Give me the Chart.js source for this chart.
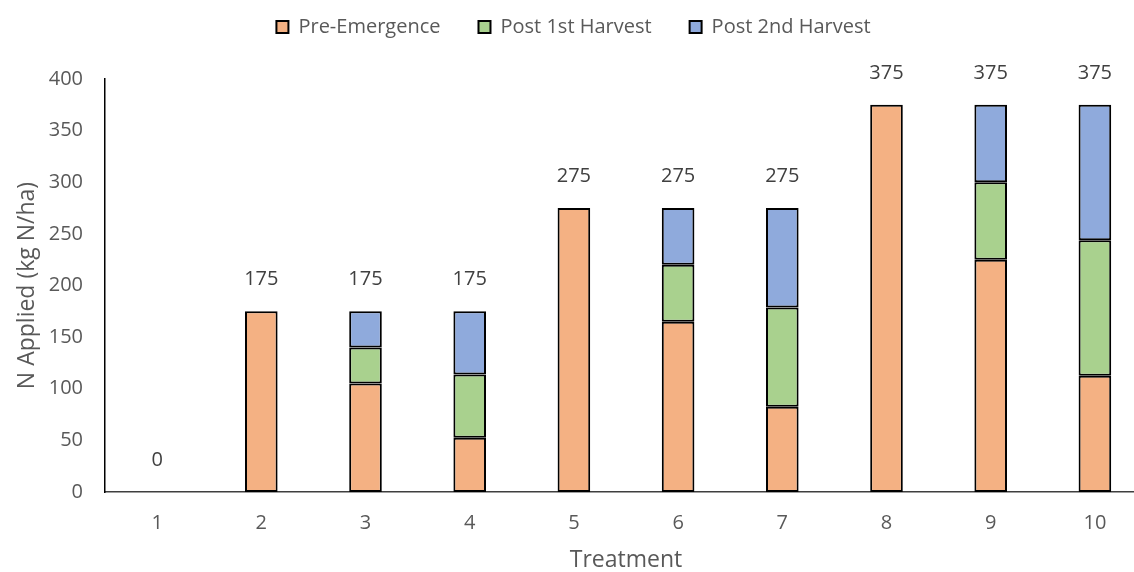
<!DOCTYPE html>
<html>
<head>
<meta charset="utf-8">
<script src="https://cdn.jsdelivr.net/npm/chart.js@4"></script>
<style>
  html, body { margin: 0; padding: 0; background: #fff; overflow: hidden; }
  #wrap { width: 1150px; height: 572px; }
</style>
</head>
<body>
<div id="wrap"><canvas id="chart" width="1150" height="572"></canvas></div>
<script>
// Nitrogen applied per treatment, split by timing (kg N/ha)
const treatments = ['1', '2', '3', '4', '5', '6', '7', '8', '9', '10'];
const preEmergence = [0, 175, 105, 52.5, 275, 165, 82.5, 375, 225, 112.5];
const post1stHarvest = [null, null, 35, 61.25, null, 55, 96.25, null, 75, 131.25];
const post2ndHarvest = [null, null, 35, 61.25, null, 55, 96.25, null, 75, 131.25];
const seriesNames = ['Pre-Emergence', 'Post 1st Harvest', 'Post 2nd Harvest'];
const yTicks = [0, 50, 100, 150, 200, 250, 300, 350, 400];

const FONT = "'Open Sans', sans-serif";
const TEXT = '#595959';

// extra room between the legend row and the plot
const legendGap = {
  id: 'legendGap',
  afterInit(chart) {
    const legend = chart.legend;
    const fit = legend.fit;
    legend.fit = function () { fit.call(this); this.height += 32; };
  }
};

// total of each stack written above it
const totalLabels = {
  id: 'totalLabels',
  afterDatasetsDraw(chart) {
    const ctx = chart.ctx;
    const y = chart.scales.y;
    const meta = chart.getDatasetMeta(0);
    ctx.save();
    ctx.font = `20px ${FONT}`;
    ctx.fillStyle = '#404040';
    ctx.textAlign = 'center';
    ctx.textBaseline = 'middle';
    treatments.forEach((_, i) => {
      const total = chart.data.datasets.reduce((s, ds) => s + (ds.data[i] || 0), 0);
      ctx.fillText(String(total), meta.data[i].x, y.getPixelForValue(total) - 32);
    });
    ctx.restore();
  }
};

const common = { borderColor: '#000', borderWidth: 2, borderSkipped: false,
                 categoryPercentage: 1, barPercentage: 0.313 };

new Chart(document.getElementById('chart'), {
  type: 'bar',
  data: {
    labels: treatments,
    datasets: [
      { label: seriesNames[0], data: preEmergence, backgroundColor: '#F4B183', ...common },
      { label: seriesNames[1], data: post1stHarvest, backgroundColor: '#A9D18E', ...common },
      { label: seriesNames[2], data: post2ndHarvest, backgroundColor: '#8FAADC', ...common }
    ]
  },
  options: {
    responsive: false,
    animation: false,
    layout: { padding: { top: -21, left: 0, right: 3, bottom: 0 } },
    plugins: {
      tooltip: { enabled: false },
      legend: {
        position: 'top',
        labels: { boxWidth: 12, boxHeight: 12, padding: 38, color: TEXT,
                  font: { family: FONT, size: 20 } }
      }
    },
    scales: {
      x: {
        stacked: true,
        grid: { display: false, drawTicks: false },
        border: { display: true, color: '#3f3f3f', width: 1.5 },
        ticks: { color: TEXT, font: { family: FONT, size: 20 }, padding: 19, maxRotation: 0 },
        title: { display: true, text: 'Treatment', color: TEXT,
                 font: { family: FONT, size: 23, lineHeight: 1 }, padding: { top: 0, bottom: 0 } },
        afterFit(scale) { scale.height = 80; }
      },
      y: {
        stacked: true,
        min: 0, max: 400,
        grid: { display: false, drawTicks: false },
        border: { display: true, color: '#000', width: 1.5 },
        afterBuildTicks(scale) { scale.ticks = yTicks.map(v => ({ value: v })); },
        ticks: { color: TEXT, font: { family: FONT, size: 20 }, padding: 22 },
        title: { display: true, text: 'N Applied (kg N/ha)', color: TEXT,
                 font: { family: FONT, size: 23, lineHeight: 1 }, padding: { top: 16, bottom: 0 } },
        afterFit(scale) { scale.width = 105; }
      }
    }
  },
  plugins: [legendGap, totalLabels]
});
</script>
</body>
</html>
